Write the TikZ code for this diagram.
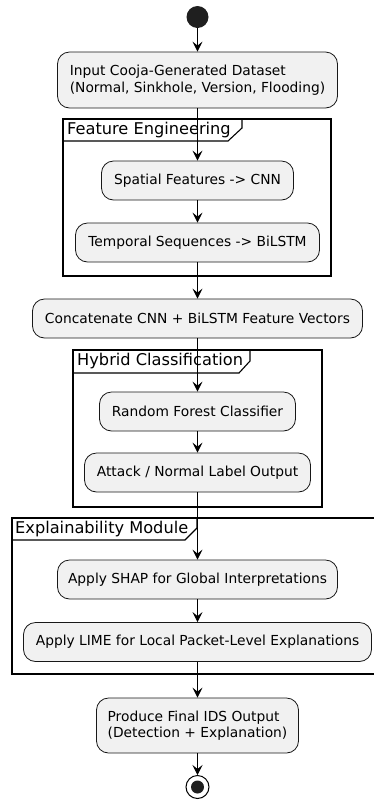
\documentclass[tikz,border=0pt]{standalone}
\usepackage{fontspec}
\setmainfont{DejaVu Sans}
\usetikzlibrary{arrows.meta}
\definecolor{actfill}{HTML}{F1F1F1}
\definecolor{actline}{HTML}{181818}
\begin{document}
\begin{tikzpicture}[x=1pt,y=-1pt,
  act/.style={draw=actline, fill=actfill, rounded corners=12pt, line width=0.8pt,
    minimum height=39pt, inner sep=0pt, font=\fontsize{13.8}{16.5}\selectfont},
  frm/.style={draw=black, line width=1.1pt},
  ftitle/.style={anchor=west, inner sep=0pt, font=\fontsize{16.2}{18}\selectfont},
  flow/.style={draw=black, line width=0.9pt, -{Stealth[length=10pt,width=10pt,inset=4pt]}},
  dot/.style={circle, fill=black!88, inner sep=0pt, minimum size=22pt}]
\clip (0,0) rectangle (374,804);
\fill[white] (0,0) rectangle (374,804);

% frames
\draw[frm] (63,119) rectangle (331,276);
\draw[frm] (63,141) -- (228,141) -- (242,128) -- (242,119);
\node[ftitle] (t1) at (67,130) {Feature Engineering};

\draw[frm] (73,350) rectangle (322,507);
\draw[frm] (73,373) -- (239,373) -- (250,361) -- (250,350);
\node[ftitle] (t2) at (77,361.5) {Hybrid Classification};

\draw[frm] (12,518) rectangle (390,674);
\draw[frm] (12,540) -- (185,540) -- (197,528) -- (197,518);
\node[ftitle] (t3) at (15,529) {Explainability Module};

% nodes
\node[dot] (start) at (197.5,17) {};
\node[act, minimum width=280pt, minimum height=56pt, align=left] (n1) at (197.5,80)
  {Input Cooja-Generated Dataset\\(Normal, Sinkhole, Version, Flooding)};
\node[act, minimum width=192pt] (n2) at (197.5,180.5) {Spatial Features -> CNN};
\node[act, minimum width=244pt] (n3) at (197.5,242.5) {Temporal Sequences -> BiLSTM};
\node[act, minimum width=330pt] (n4) at (197.5,318.5) {Concatenate CNN + BiLSTM Feature Vectors};
\node[act, minimum width=196pt] (n5) at (197.5,411.5) {Random Forest Classifier};
\node[act, minimum width=226pt] (n6) at (197.5,472.5) {Attack / Normal Label Output};
\node[act, minimum width=280pt] (n7) at (197.5,579.5) {Apply SHAP for Global Interpretations};
\node[act, minimum width=348pt] (n8) at (197.5,642) {Apply LIME for Local Packet-Level Explanations};
\node[act, minimum width=202pt, minimum height=55pt, align=left] (n9) at (197.5,725.5)
  {Produce Final IDS Output\\(Detection + Explanation)};
\node[circle, draw=black, line width=1pt, fill=white, inner sep=0pt, minimum size=23pt] (stop) at (197.5,787) {};
\node[dot, minimum size=13pt] (stopin) at (stop.center) {};

% connectors
\draw[flow] (start) -- (n1);
\draw[flow] (n1) -- (n2);
\draw[flow] (n2) -- (n3);
\draw[flow] (n3) -- (n4);
\draw[flow] (n4) -- (n5);
\draw[flow] (n5) -- (n6);
\draw[flow] (n6) -- (n7);
\draw[flow] (n7) -- (n8);
\draw[flow] (n8) -- (n9);
\draw[flow] (n9) -- (stop);
\end{tikzpicture}
\end{document}
